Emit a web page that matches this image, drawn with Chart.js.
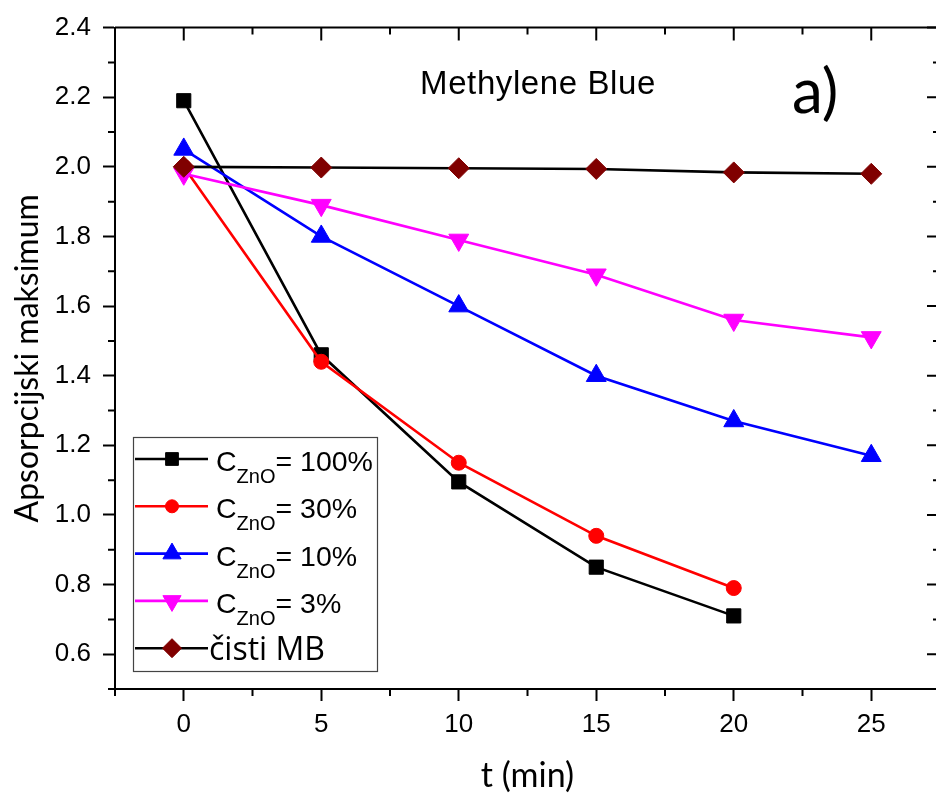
<!DOCTYPE html>
<html><head><meta charset="utf-8">
<script src="https://cdn.jsdelivr.net/npm/chart.js@4/dist/chart.umd.min.js"></script>
<style>
html,body{margin:0;padding:0;background:#fff;overflow:hidden;}
#wrap{position:relative;width:936px;height:793px;}
</style></head><body>
<div id="wrap"><canvas id="c" width="936" height="793"></canvas></div>
<script>
// ---- data ----
const times = [0, 5, 10, 15, 20, 25];
const zno100 = [2.19, 1.46, 1.095, 0.85, 0.71];
const zno30 = [2.0, 1.44, 1.15, 0.94, 0.79];
const zno10 = [2.05, 1.80, 1.60, 1.40, 1.27, 1.17];
const zno3 = [1.98, 1.89, 1.79, 1.69, 1.56, 1.51];
const pureMB = [2.0, 1.998, 1.996, 1.994, 1.984, 1.98];
const seriesNames = ['= 100%', '= 30%', '= 10%', '= 3%', 'čisti MB'];
const xTicks = [0, 5, 10, 15, 20, 25];
const yTicks = [0.6, 0.8, 1.0, 1.2, 1.4, 1.6, 1.8, 2.0, 2.2, 2.4];
const xMinor = [-2.5, 2.5, 7.5, 12.5, 17.5, 22.5, 27.5];
const yMinor = [0.5, 0.7, 0.9, 1.1, 1.3, 1.5, 1.7, 1.9, 2.1, 2.3];
const chartTitle = 'Methylene Blue';
const panelLabel = 'a)';
const xTitle = 't (min)';
const yTitle = 'Apsorpcijski maksimum';

const pts = arr => arr.map((v, i) => ({x: times[i], y: v}));

const styles = [
  {line: '#000000', fill: '#000000', ps: 'rect', r: 10, rot: 0},
  {line: '#ff0000', fill: '#ff0000', ps: 'circle', r: 7.5, rot: 0},
  {line: '#0000ff', fill: '#0000ff', ps: 'triangle', r: 11.5, rot: 0},
  {line: '#ff00ff', fill: '#ff00ff', ps: 'triangle', r: 11.5, rot: 180},
  {line: '#000000', fill: '#800000', ps: 'rectRot', r: 10.5, rot: 0}
];
const seriesData = [zno100, zno30, zno10, zno3, pureMB];
const orders = [4, 3, 2, 1, 0];

const datasets = seriesData.map((d, i) => ({
  label: seriesNames[i],
  data: pts(d),
  borderColor: styles[i].line,
  borderWidth: 2.6,
  pointStyle: styles[i].ps,
  pointRadius: styles[i].r,
  pointRotation: styles[i].rot,
  pointBackgroundColor: styles[i].fill,
  pointBorderColor: styles[i].fill,
  pointBorderWidth: 1,
  tension: 0,
  order: orders[i]
}));

const TICKFONT = {family: '"Liberation Sans", Arial, sans-serif', size: 26};
const AXIS_RIGHT = 940; // plot frame extends slightly past the visible edge

const extendArea = {
  id: 'extendArea',
  afterLayout(chart) {
    const xs = chart.scales.x;
    const ca = chart.chartArea;
    ca.right = AXIS_RIGHT; ca.width = ca.right - ca.left;
    xs.right = AXIS_RIGHT; xs.width = xs.right - xs.left;
    xs.configure();
  }
};

const decor = {
  id: 'decor',
  afterDraw(chart) {
    const ctx = chart.ctx;
    const xs = chart.scales.x, ys = chart.scales.y;
    const a = chart.chartArea;
    ctx.save();
    ctx.strokeStyle = '#000';
    ctx.lineWidth = 2;
    ctx.beginPath();
    ctx.moveTo(a.left, a.top); ctx.lineTo(a.right, a.top);
    ctx.moveTo(a.right, a.top); ctx.lineTo(a.right, a.bottom);
    ctx.stroke();
    ctx.beginPath();
    xTicks.forEach(v => { const p = xs.getPixelForValue(v); ctx.moveTo(p, a.top); ctx.lineTo(p, a.top + 13); });
    xMinor.forEach(v => { const p = xs.getPixelForValue(v);
      ctx.moveTo(p, a.top); ctx.lineTo(p, a.top + 7);
      ctx.moveTo(p, a.bottom); ctx.lineTo(p, a.bottom + 7); });
    yTicks.forEach(v => { const p = ys.getPixelForValue(v); ctx.moveTo(a.right, p); ctx.lineTo(a.right - 13, p); });
    yMinor.forEach(v => { const p = ys.getPixelForValue(v);
      ctx.moveTo(a.right, p); ctx.lineTo(a.right - 7, p);
      ctx.moveTo(a.left, p); ctx.lineTo(a.left - 7, p); });
    ctx.stroke();

    ctx.fillStyle = '#000';
    ctx.textAlign = 'center';
    ctx.textBaseline = 'alphabetic';
    ctx.font = '33px "Liberation Sans", Arial, sans-serif';
    try { ctx.letterSpacing = '0.6px'; } catch (e) {}
    ctx.fillText(chartTitle, 538, 94);
    try { ctx.letterSpacing = '0px'; } catch (e) {}
    ctx.font = '62px Lato, sans-serif';
    ctx.textAlign = 'left';
    ctx.fillText(panelLabel, 792, 113);

    // legend
    const bx = 133, by = 437, bw = 244, bh = 234;
    ctx.fillStyle = '#fff';
    ctx.fillRect(bx, by, bw, bh);
    ctx.strokeStyle = '#444';
    ctx.lineWidth = 1.2;
    ctx.strokeRect(bx + 0.5, by + 0.5, bw, bh);
    const row0 = 459, step = 47.3;
    seriesNames.forEach((name, i) => {
      const y = row0 + i * step;
      const st = styles[i];
      ctx.strokeStyle = st.line;
      ctx.lineWidth = 2.6;
      ctx.beginPath(); ctx.moveTo(135, y); ctx.lineTo(208, y); ctx.stroke();
      ctx.fillStyle = st.fill; ctx.strokeStyle = st.fill; ctx.lineWidth = 1;
      Chart.helpers.drawPoint(ctx, {pointStyle: st.ps, radius: st.r - 1, rotation: st.rot, borderWidth: 1}, 172, y);
      ctx.fillStyle = '#000';
      ctx.textAlign = 'left';
      if (i < 4) {
        let x = 216;
        ctx.font = '28.5px "Liberation Sans", Arial, sans-serif';
        ctx.fillText('C', x, y + 12);
        x += ctx.measureText('C').width;
        ctx.font = '20px "Liberation Sans", Arial, sans-serif';
        ctx.fillText('ZnO', x, y + 24);
        x += ctx.measureText('ZnO').width;
        ctx.font = '28.5px "Liberation Sans", Arial, sans-serif';
        ctx.fillText(name, x, y + 12);
      } else {
        ctx.font = '32px "Open Sans", sans-serif';
        ctx.fillText(name, 209, y + 12);
      }
    });
    ctx.restore();
  }
};

new Chart(document.getElementById('c'), {
  type: 'line',
  data: {datasets},
  options: {
    responsive: false,
    animation: false,
    devicePixelRatio: 1,
    layout: {padding: {top: 24, right: 0, left: 0, bottom: 0}},
    plugins: {legend: {display: false}, tooltip: {enabled: false}},
    scales: {
      x: {
        type: 'linear', min: -2.5, max: 27.5,
        afterBuildTicks: s => { s.ticks = xTicks.map(v => ({value: v})); },
        afterFit: s => { s.height = 104; s.paddingLeft = 0; s.paddingRight = 0; },
        ticks: {font: TICKFONT, color: '#000', padding: 8, autoSkip: false, maxRotation: 0},
        grid: {drawOnChartArea: false, drawTicks: true, tickLength: 12, tickWidth: 2, tickColor: '#000'},
        border: {display: true, color: '#000', width: 2},
        title: {display: true, text: xTitle, color: '#000', font: {family: 'Lato, sans-serif', size: 34, lineHeight: 1}, padding: {top: 0, bottom: 0}}
      },
      y: {
        type: 'linear', min: 0.5, max: 2.4,
        afterBuildTicks: s => { s.ticks = yTicks.map(v => ({value: v})); },
        afterFit: s => { s.width = 115; },
        ticks: {font: TICKFONT, color: '#000', padding: 12, autoSkip: false, callback: v => v.toFixed(1)},
        grid: {drawOnChartArea: false, drawTicks: true, tickLength: 12, tickWidth: 2, tickColor: '#000'},
        border: {display: true, color: '#000', width: 2},
        title: {display: true, text: yTitle, color: '#000', font: {family: 'Lato, sans-serif', size: 32, lineHeight: 1}, padding: {top: 12, bottom: 0}}
      }
    }
  },
  plugins: [extendArea, decor]
});
</script>
</body></html>
